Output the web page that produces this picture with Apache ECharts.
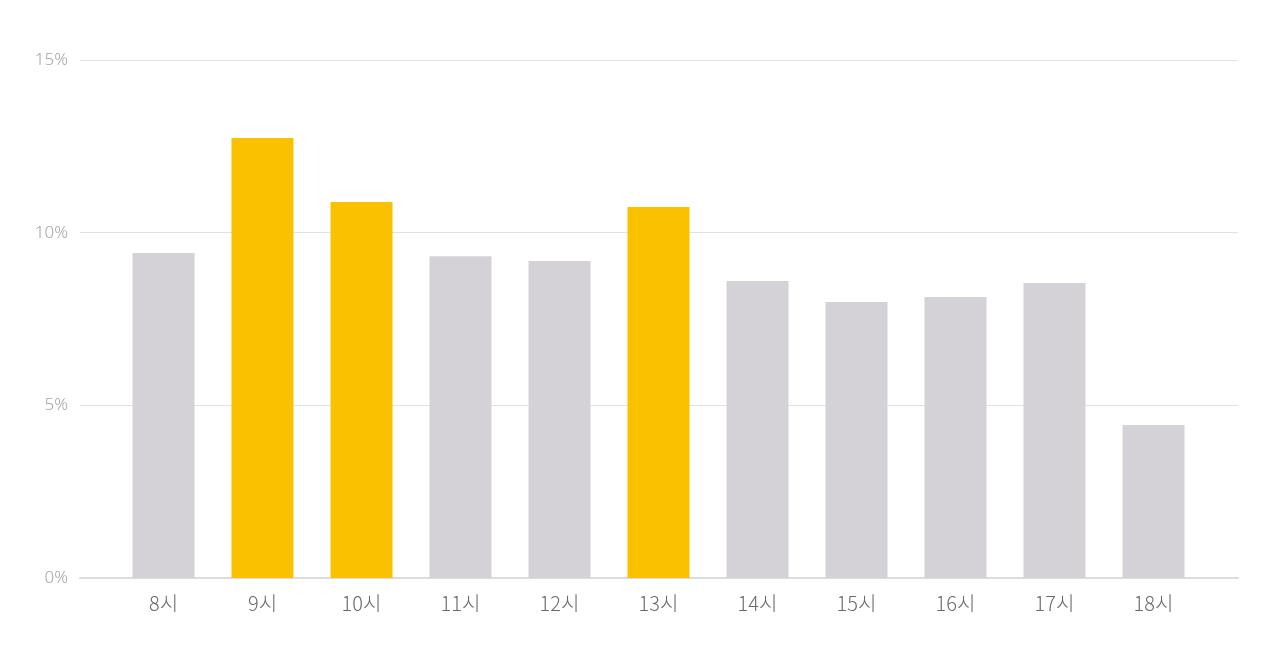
<!DOCTYPE html>
<html>
<head>
<meta charset="utf-8">
<script src="https://cdn.jsdelivr.net/npm/echarts@6/dist/echarts.min.js"></script>
<style>
  html, body { margin: 0; padding: 0; background: #fff; }
  #chart { width: 1280px; height: 665px; }
</style>
</head>
<body>
<div id="chart"></div>
<script>
// 시간대별 비율
const hours = ['8시', '9시', '10시', '11시', '12시', '13시', '14시', '15시', '16시', '17시', '18시'];
const shares = [9.41, 12.74, 10.89, 9.32, 9.18, 10.74, 8.6, 7.99, 8.14, 8.54, 4.43];
const highlighted = ['9시', '10시', '13시'];

const chart = echarts.init(document.getElementById('chart'));

chart.setOption({
  animation: false,
  // 0: 눈금선/라벨용, 1: 막대용 (막대 영역이 안쪽으로 조금 들어가 있음)
  grid: [
    { left: 80, right: 42, top: 60, bottom: 87 },
    { left: 114, right: 77, top: 60, bottom: 87 }
  ],
  xAxis: [
    {
      type: 'category',
      gridIndex: 0,
      data: hours,
      axisLine: { lineStyle: { color: '#dcdcdc', width: 2 } },
      axisTick: { show: false },
      axisLabel: { show: false }
    },
    {
      type: 'category',
      gridIndex: 1,
      data: hours,
      axisTick: { show: false },
      axisLine: { show: false },
      axisLabel: {
        color: '#6a6a6a',
        fontSize: 20,
        fontFamily: 'Noto Sans CJK KR',
        fontWeight: 300,
        margin: 15
      }
    }
  ],
  yAxis: [
    {
      type: 'value',
      gridIndex: 0,
      min: 0,
      max: 15,
      interval: 5,
      axisLabel: {
        formatter: '{value}%',
        color: '#a5a5a5',
        fontSize: 17,
        fontFamily: 'Noto Sans',
        fontWeight: 300,
        margin: 12
      },
      splitLine: { lineStyle: { color: '#e2e2e2', width: 1.2 } },
      axisLine: { show: false },
      axisTick: { show: false }
    },
    {
      type: 'value',
      gridIndex: 1,
      min: 0,
      max: 15,
      interval: 5,
      show: false,
      splitLine: { show: false }
    }
  ],
  series: [{
    type: 'bar',
    xAxisIndex: 1,
    yAxisIndex: 1,
    barWidth: 62,
    data: shares.map((v, i) => ({
      value: v,
      itemStyle: { color: highlighted.includes(hours[i]) ? '#f9c100' : '#d5d2d7' }
    }))
  }]
});
</script>
</body>
</html>
